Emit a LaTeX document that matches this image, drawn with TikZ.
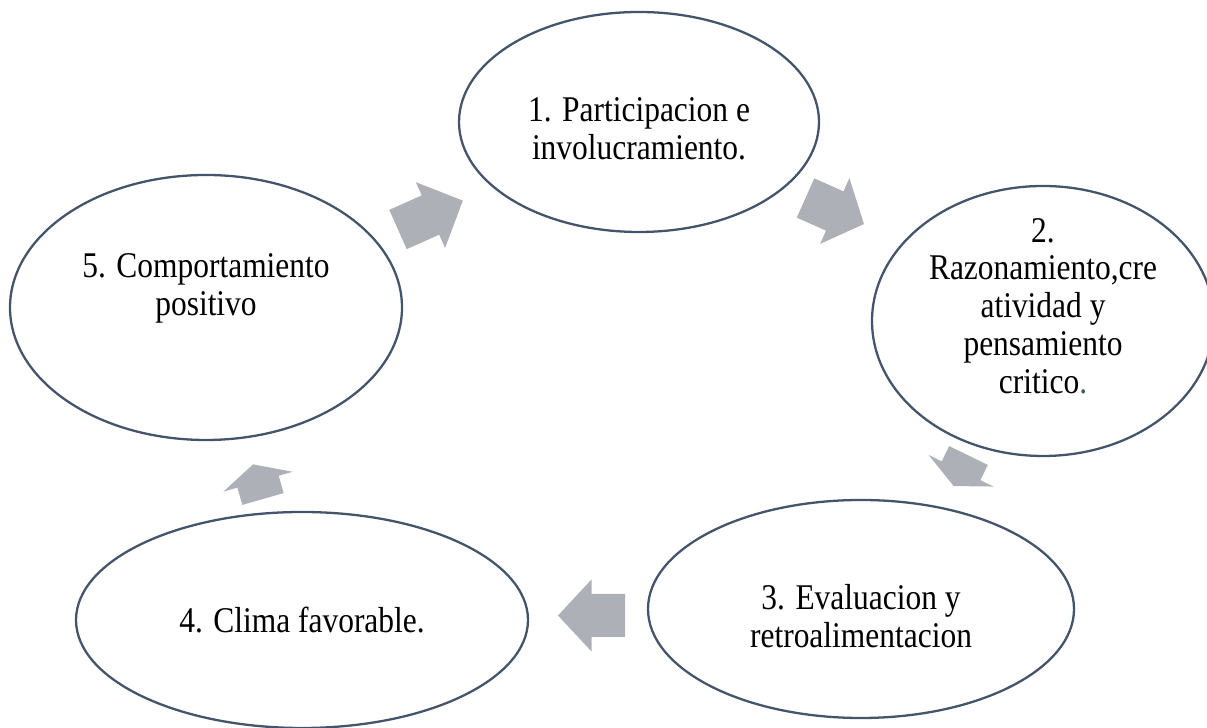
\documentclass[tikz,border=0pt]{standalone}
\usepackage{fontspec}
\setmainfont{Liberation Serif}
\usepackage{tikz}
\usetikzlibrary{shapes.geometric}

\definecolor{rim}{RGB}{68,84,106}
\definecolor{arrowgray}{RGB}{173,176,183}

\tikzset{
  stage/.style={ellipse, draw=rim, line width=1.3pt, fill=white, inner sep=0pt},
  stagetext/.style={align=center, inner sep=0pt, yscale=1.15,
                    font=\fontsize{17.9}{18.7}\selectfont},
}

% block arrow: tail point, angle, length
\newcommand{\cyclearrow}[3]{%
  \fill[arrowgray, shift={#1}, rotate=#2]
    (0,-0.43) -- ({#3/2},-0.43) -- ({#3/2},-0.72) -- (#3,0)
    -- ({#3/2},0.72) -- ({#3/2},0.43) -- (0,0.43) -- cycle;}

\begin{document}
\begin{tikzpicture}
      \clip (0,0) rectangle (24.14,14.56);
      \node (p1) [stage, minimum width=7.2cm, minimum height=4.4cm] at (12.78,12.12) {};
      \node (p2) [stage, minimum width=6.84cm, minimum height=5.4cm] at (20.86,8.14) {};
      \node (p3) [stage, minimum width=8.52cm, minimum height=4.36cm] at (17.22,2.38) {};
      \node (p4) [stage, minimum width=9.04cm, minimum height=4.32cm] at (6.04,2.16) {};
      \node (p5) [stage, minimum width=7.84cm, minimum height=5.3cm] at (4.12,8.41) {};
      % texts sit a little off the centres, as in the text boxes
      \node (t1) [stagetext] at ([yshift=-0.14cm]p1.center) {1. Participacion e\\involucramiento.};
      \node (t2) [stagetext] at ([yshift=0.3cm]p2.center)
            {2.\\Razonamiento,cre\\atividad y\\pensamiento\\critico\textcolor{rim}{.}};
      \node (t3) [stagetext] at ([yshift=-0.14cm]p3.center) {3. Evaluacion y\\retroalimentacion};
      \node (t4) [stagetext] at (p4.center) {4. Clima favorable.};
      \node (t5) [stagetext] at ([yshift=0.38cm]p5.center) {5. Comportamiento\\positivo};
      % arrow tails between the stages
      \coordinate (a51) at (7.96,9.97);
      \coordinate (a12) at (16.11,10.60);
      \coordinate (a23) at (19.37,5.45);
      \coordinate (a34) at (12.50,2.25);
      \coordinate (a45) at (5.26,4.58);
      \cyclearrow{(a51)}{24}{1.42}
      \cyclearrow{(a12)}{-24}{1.28}
      \cyclearrow{(a23)}{244}{0.68}
      \cyclearrow{(a34)}{180}{1.34}
      \cyclearrow{(a45)}{106}{0.72}
\end{tikzpicture}
\end{document}
